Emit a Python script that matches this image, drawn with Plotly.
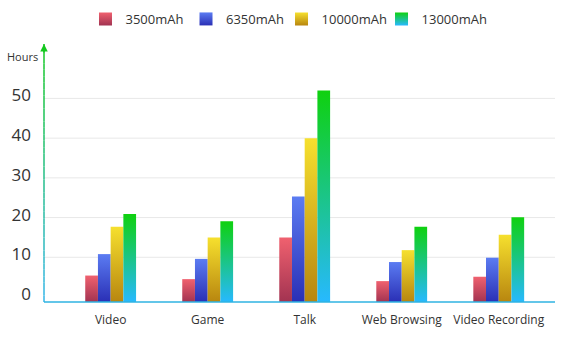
import plotly.graph_objects as go

categories = ["Video", "Game", "Talk", "Web Browsing", "Video Recording"]
series_names = ["3500mAh", "6350mAh", "10000mAh", "13000mAh"]
v3500 = [5.4, 4.5, 15.0, 4.0, 5.1]
v6350 = [10.8, 9.6, 25.3, 8.8, 9.9]
v10000 = [17.7, 15.0, 40.0, 11.8, 15.7]
v13000 = [20.9, 19.1, 52.0, 17.7, 20.1]
y_ticks = [0, 10, 20, 30, 40, 50]

series_values = [v3500, v6350, v10000, v13000]
# (bottom colour, top colour)
grads = [("#a23351", "#f0616f"),
         ("#2a2fb5", "#5b7cf2"),
         ("#b8860f", "#f6e02e"),
         ("#27b9ff", "#0fd10f")]

YMIN, YMAX = -1.26, 63.7
XMIN, XMAX = -0.687, 4.58
BAR_W = 0.131

# one small legend per series (paper x of each legend's left edge)
LEG_X = [0.0812, 0.2779, 0.4648, 0.6605]
LEG_Y = 1.097
legend_ids = ["legend", "legend2", "legend3", "legend4"]

fig = go.Figure()

n = len(series_names)
for s, (name, vals) in enumerate(zip(series_names, series_values)):
    bot, top = grads[s]
    off = (s - (n - 1) / 2) * BAR_W
    for i, v in enumerate(vals):
        x0 = i + off - BAR_W / 2
        x1 = i + off + BAR_W / 2
        fig.add_trace(go.Scatter(
            x=[x0, x1, x1, x0, x0], y=[YMIN, YMIN, v, v, YMIN],
            mode="lines", line=dict(width=0), fill="toself",
            fillgradient=dict(type="vertical", colorscale=[[0, bot], [1, top]]),
            showlegend=False, hoverinfo="skip", name=name))
    # legend entry with gradient square
    fig.add_trace(go.Scatter(
        x=[None], y=[None], mode="markers", name=name, legend=legend_ids[s],
        marker=dict(symbol="square", size=13, color=top, line=dict(width=0),
                    gradient=dict(type="vertical", color=bot)),
        showlegend=True))

shapes = []
# gridlines
for t in y_ticks:
    if t > 0:
        shapes.append(dict(type="line", xref="paper", yref="y", x0=0, x1=1, y0=t, y1=t,
                           line=dict(color="#e8e8e8", width=1), layer="below"))

# gradient y axis line
def lerp(c1, c2, f):
    a = [int(c1[k:k + 2], 16) for k in (1, 3, 5)]
    b = [int(c2[k:k + 2], 16) for k in (1, 3, 5)]
    return "rgb(%d,%d,%d)" % tuple(round(a[j] + (b[j] - a[j]) * f) for j in range(3))

N = 40
for k in range(N):
    f0, f1 = k / N, (k + 1) / N
    shapes.append(dict(type="line", xref="paper", yref="paper", x0=0, x1=0, y0=f0, y1=f1,
                       line=dict(color=lerp("#33b5ea", "#14c81e", (f0 + f1) / 2), width=1.5)))
# x axis line
shapes.append(dict(type="line", xref="paper", yref="paper", x0=0, x1=1, y0=0, y1=0,
                   line=dict(color="#2fb3e2", width=1.5)))

annotations = [
    dict(text="Hours", xref="paper", yref="paper", x=-0.042, y=0.95, showarrow=False,
         font=dict(size=11, color="#333333"), xanchor="center", yanchor="middle"),
    dict(text="", xref="paper", yref="paper", x=0, y=1.0, ax=0, ay=10, showarrow=True,
         arrowhead=2, arrowsize=1, arrowwidth=1.5, arrowcolor="#14c81e"),
]

legends = {}
for lid, lx in zip(legend_ids, LEG_X):
    legends[lid] = dict(orientation="h", x=lx, xanchor="left", y=LEG_Y, yanchor="middle",
                        font=dict(size=13, color="#333333"), bgcolor="rgba(0,0,0,0)")

fig.update_layout(
    width=565, height=353,
    margin=dict(l=44, r=10, t=44, b=51, autoexpand=False),
    paper_bgcolor="white", plot_bgcolor="white",
    font=dict(family="Open Sans", color="#333333"),
    shapes=shapes,
    showlegend=True,
    xaxis=dict(range=[XMIN, XMAX], tickvals=list(range(len(categories))), ticktext=categories,
               showgrid=False, zeroline=False, showline=False, ticks="",
               tickfont=dict(size=12, color="#333333"), ticklabelstandoff=9),
    yaxis=dict(range=[YMIN, YMAX], tickvals=y_ticks, showgrid=False, zeroline=False,
               showline=False, ticks="", tickfont=dict(size=17, color="#333333"),
               ticklabelstandoff=12, ticklabelshift=-3),
    annotations=annotations,
    **legends,
)

fig.write_html("out.html")
